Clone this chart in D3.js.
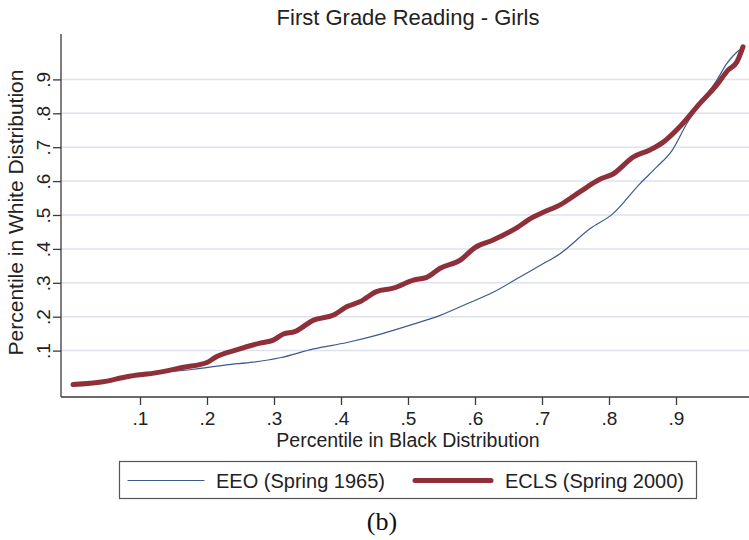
<!DOCTYPE html>
<html>
<head>
<meta charset="utf-8">
<script src="https://cdn.jsdelivr.net/npm/d3@7"></script>
<style>
  body { margin: 0; background: #fff; }
  svg { display: block; }
</style>
</head>
<body>
<div id="chart"></div>
<script>
// Data (x = percentile in Black dist., y = percentile in White dist.)
const eeoX = [0.000, 0.045, 0.080, 0.125, 0.180, 0.229, 0.269, 0.309, 0.359, 0.409, 0.458, 0.508, 0.548,
  0.588, 0.627, 0.667, 0.697, 0.727, 0.772, 0.806, 0.846, 0.871, 0.894, 0.916, 0.936, 0.961, 0.976, 0.991, 0.997]
const eeoY = [0.000, 0.008, 0.023, 0.034, 0.045, 0.058, 0.066, 0.079, 0.105, 0.124, 0.148, 0.178, 0.204,
  0.238, 0.272, 0.317, 0.351, 0.386, 0.460, 0.504, 0.592, 0.641, 0.690, 0.769, 0.829, 0.898, 0.947, 0.981, 0.990]

const eclsX = [0.000, 0.045, 0.080, 0.125, 0.165, 0.200, 0.214, 0.244, 0.279, 0.299, 0.314, 0.331, 0.359,
  0.389, 0.409, 0.428, 0.453, 0.478, 0.508, 0.528, 0.548, 0.578, 0.600, 0.627, 0.657, 0.687, 0.702, 0.727,
  0.757, 0.787, 0.806, 0.836, 0.861, 0.881, 0.906, 0.936, 0.961, 0.978, 0.991, 1.000]
const eclsY = [0.000, 0.008, 0.023, 0.035, 0.051, 0.065, 0.082, 0.102, 0.122, 0.131, 0.149, 0.156, 0.190,
  0.205, 0.230, 0.244, 0.274, 0.284, 0.308, 0.316, 0.343, 0.367, 0.404, 0.426, 0.456, 0.494, 0.508, 0.530,
  0.569, 0.606, 0.621, 0.671, 0.692, 0.715, 0.761, 0.830, 0.884, 0.928, 0.952, 0.996]

const tickValues = [0.1, 0.2, 0.3, 0.4, 0.5, 0.6, 0.7, 0.8, 0.9]
const tickLabels = [".1", ".2", ".3", ".4", ".5", ".6", ".7", ".8", ".9"]
const seriesNames = ["EEO (Spring 1965)", "ECLS (Spring 2000)"]

const CONFIG = {
  width: 749,
  height: 540,
  plot: { left: 61, top: 34, bottom: 397 },
  colors: { eeo: "#3e5a8c", ecls: "#8e2f3a", grid: "#dde2ec", axis: "#3a3a3a", text: "#222" },
  font: "'Liberation Sans', Arial, Helvetica, sans-serif"
}

const svg = d3.select("#chart").append("svg")
  .attr("width", CONFIG.width)
  .attr("height", CONFIG.height)
  .style("font-family", CONFIG.font)

const x = d3.scaleLinear().domain([0, 1]).range([73, 743])
const y = d3.scaleLinear().domain([0, 1]).range([384.5, 45.5])

// Gridlines
svg.append("g")
  .selectAll("line")
  .data(tickValues)
  .join("line")
  .attr("x1", CONFIG.plot.left)
  .attr("x2", CONFIG.width)
  .attr("y1", d => y(d))
  .attr("y2", d => y(d))
  .attr("stroke", CONFIG.colors.grid)
  .attr("stroke-width", 1.5)

// Y axis, labels rotated like the reference
const yAxis = svg.append("g")
  .attr("transform", `translate(${CONFIG.plot.left},0)`)
  .call(d3.axisLeft(y).tickValues(tickValues).tickFormat((d, i) => tickLabels[i]).tickSize(8).tickSizeOuter(0))
yAxis.select(".domain").attr("d", `M0,${CONFIG.plot.top}V${CONFIG.plot.bottom}`)
yAxis.selectAll(".tick text")
  .attr("x", 0).attr("y", 0).attr("dy", 0)
  .attr("transform", "translate(-11,0) rotate(-90)")
  .attr("text-anchor", "middle")
  .style("font-size", "19px")
  .attr("fill", CONFIG.colors.text)

// X axis
const xAxis = svg.append("g")
  .attr("transform", `translate(0,${CONFIG.plot.bottom})`)
  .call(d3.axisBottom(x).tickValues(tickValues).tickFormat((d, i) => tickLabels[i]).tickSize(8).tickSizeOuter(0))
xAxis.select(".domain").attr("d", `M${CONFIG.plot.left},0H${CONFIG.width}`)
xAxis.selectAll(".tick text")
  .attr("y", 28).attr("dy", 0)
  .style("font-size", "19px")
  .attr("fill", CONFIG.colors.text)

svg.selectAll(".domain, .tick line")
  .attr("stroke", CONFIG.colors.axis)
  .attr("stroke-width", 1.3)

// Axis titles
svg.append("text")
  .attr("x", 408).attr("y", 447)
  .attr("text-anchor", "middle")
  .style("font-size", "19.5px")
  .attr("fill", CONFIG.colors.text)
  .text("Percentile in Black Distribution")

svg.append("text")
  .attr("transform", `translate(23,${(CONFIG.plot.top + CONFIG.plot.bottom) / 2 - 3}) rotate(-90)`)
  .attr("text-anchor", "middle")
  .style("font-size", "21px")
  .attr("fill", CONFIG.colors.text)
  .text("Percentile in White Distribution")

// Title
svg.append("text")
  .attr("x", 408).attr("y", 25)
  .attr("text-anchor", "middle")
  .style("font-size", "22px")
  .attr("fill", CONFIG.colors.text)
  .text("First Grade Reading - Girls")

// Lines
const line = d3.line()
  .x(d => x(d[0]))
  .y(d => y(d[1]))
  .curve(d3.curveMonotoneX)

svg.append("path")
  .datum(eeoX.map((v, i) => [v, eeoY[i]]))
  .attr("d", line)
  .attr("fill", "none")
  .attr("stroke", CONFIG.colors.eeo)
  .attr("stroke-width", 1.2)

svg.append("path")
  .datum(eclsX.map((v, i) => [v, eclsY[i]]))
  .attr("d", line)
  .attr("fill", "none")
  .attr("stroke", CONFIG.colors.ecls)
  .attr("stroke-width", 5)
  .attr("stroke-linecap", "round")
  .attr("stroke-linejoin", "round")

// Legend
const legend = svg.append("g")
legend.append("rect")
  .attr("x", 119.5).attr("y", 461.5)
  .attr("width", 577).attr("height", 37)
  .attr("fill", "#fff")
  .attr("stroke", "#555")
  .attr("stroke-width", 1.2)

const legendItems = [
  { name: seriesNames[0], color: CONFIG.colors.eeo, width: 1.2, x1: 128, x2: 204, tx: 216 },
  { name: seriesNames[1], color: CONFIG.colors.ecls, width: 5, x1: 415, x2: 491, tx: 505 }
]
legendItems.forEach(d => {
  legend.append("line")
    .attr("x1", d.x1).attr("x2", d.x2)
    .attr("y1", 480.5).attr("y2", 480.5)
    .attr("stroke", d.color)
    .attr("stroke-width", d.width)
    .attr("stroke-linecap", "round")
  legend.append("text")
    .attr("x", d.tx).attr("y", 487.5)
    .style("font-size", "20px")
    .attr("fill", CONFIG.colors.text)
    .text(d.name)
})

// Caption
svg.append("text")
  .attr("x", 382).attr("y", 530)
  .attr("text-anchor", "middle")
  .style("font-family", "'Liberation Serif', 'Times New Roman', serif")
  .style("font-size", "26px")
  .attr("fill", "#111")
  .text("(b)")
</script>
</body>
</html>
